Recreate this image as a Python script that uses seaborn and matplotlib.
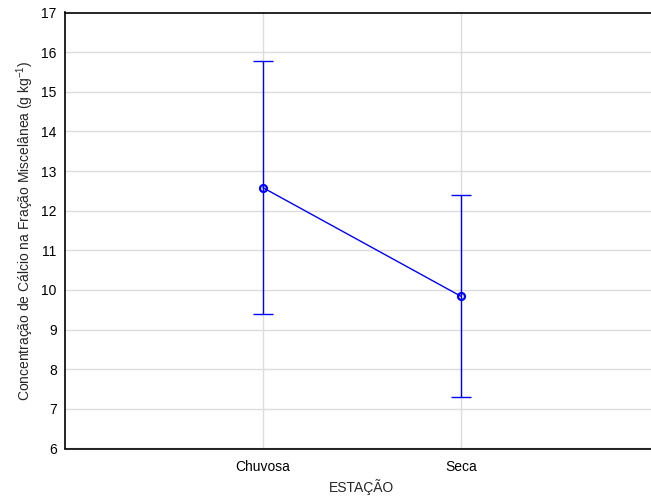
import matplotlib
matplotlib.use("Agg")
import matplotlib.pyplot as plt
import seaborn as sns
import pandas as pd

# Seasonal calcium concentration in the miscellaneous litter fraction
estacao = ["Chuvosa", "Seca"]
media = [12.58, 9.84]
erro = [3.19, 2.55]

df = pd.DataFrame({"ESTAÇÃO": estacao, "media": media})

sns.set_theme(style="white")
plt.rcParams["font.family"] = ["Liberation Sans", "DejaVu Sans"]
plt.rcParams["mathtext.fontset"] = "custom"
plt.rcParams["mathtext.rm"] = "Liberation Sans"
plt.rcParams["mathtext.it"] = "Liberation Sans"

fig = plt.figure(figsize=(6.51, 4.97), dpi=100)
ax = fig.add_axes([65 / 651, 48.5 / 497, 594 / 651, 436 / 497])

ax.errorbar(
    [0, 1], media, yerr=erro, fmt="none", ecolor="#0000ff",
    elinewidth=1.0, capsize=7, capthick=1.0, zorder=3,
)
sns.pointplot(
    data=df, x="ESTAÇÃO", y="media", ax=ax, errorbar=None,
    color="#0000ff", markers="o", linestyles="-",
    markersize=5, linewidth=1.0, zorder=4,
)
for coll in ax.collections:
    coll.set_facecolor("none")
for line in ax.lines:
    if line.get_marker() == "o":
        line.set_markerfacecolor("none")
        line.set_markeredgewidth(1.6)

ax.set_xlim(-1, 2)
ax.set_ylim(6, 17)
ax.set_yticks(range(6, 18))
ax.grid(True, color="#dcdcdc", linewidth=1.0)
ax.set_axisbelow(True)
for s in ax.spines.values():
    s.set_color("black")
    s.set_linewidth(1.2)
ax.spines["right"].set_visible(False)

ax.tick_params(axis="both", labelsize=10, colors="black", length=3, width=0.8)
ax.tick_params(axis="x", direction="in", pad=8)
ax.tick_params(axis="y", direction="out", pad=4, length=2)
ax.set_xlabel("ESTAÇÃO", fontsize=10, labelpad=4)
ax.set_ylabel("Concentração de Cálcio na Fração Miscelânea (g kg$^{-1}$)", fontsize=10, labelpad=4)

fig.savefig("out.png", dpi=100)
